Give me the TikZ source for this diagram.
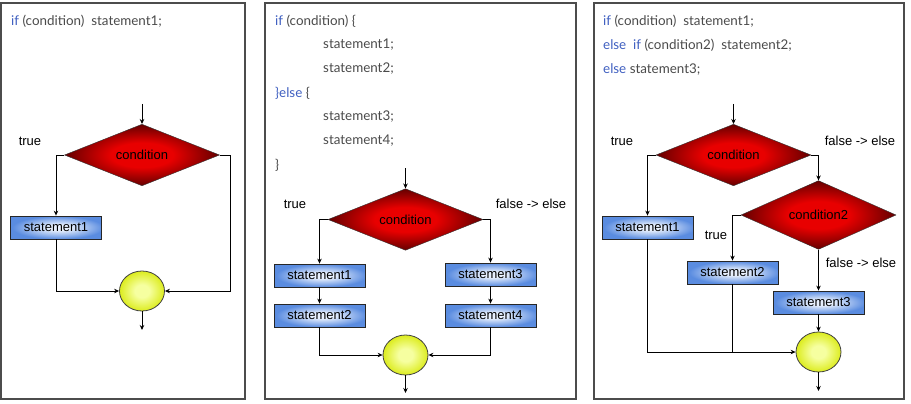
\documentclass[tikz,border=0pt]{standalone}
\usepackage{fontspec}
\setmainfont{Liberation Sans}
\newfontfamily\codefont{Lato}
\usetikzlibrary{shapes.geometric,arrows.meta,positioning}
\definecolor{kwblue}{HTML}{3F5FC0}
\definecolor{codegray}{HTML}{4A4A4A}
\definecolor{redin}{HTML}{E80000}
\definecolor{redout}{HTML}{640000}
\definecolor{bluein}{HTML}{E8F0FD}
\definecolor{blueout}{HTML}{5A8CE0}
\definecolor{yelin}{HTML}{F6FFA0}
\definecolor{yelout}{HTML}{DCEC1E}
\pgfdeclareradialshading{redshade}{\pgfpoint{0bp}{0bp}}{color(0bp)=(redin); color(10bp)=(redin); color(25bp)=(redout); color(50bp)=(redout)}
\pgfdeclareradialshading{blueshade}{\pgfpoint{2bp}{0bp}}{color(0bp)=(bluein); color(6bp)=(bluein); color(25bp)=(blueout); color(50bp)=(blueout)}
\pgfdeclareradialshading{yelshade}{\pgfpoint{0bp}{0bp}}{color(0bp)=(yelin); color(8bp)=(yelin); color(25bp)=(yelout); color(50bp)=(yelout)}
\newcommand{\kw}[1]{\textcolor{kwblue}{#1}}
\begin{document}
\begin{tikzpicture}[x=1pt,y=1pt,
		font=\fontsize{13}{15}\selectfont,
		arr/.style={-{Stealth[length=5pt,width=4.5pt]}, line width=0.8pt},
		link/.style={line width=0.8pt},
		panel/.style={draw=black!70, line width=1.1pt},
		code/.style={anchor=west, inner sep=0pt, font=\codefont\fontsize{13.4}{15}\selectfont, text=codegray},
		decision/.style={diamond, draw=black!80, inner sep=0pt, minimum width=155, minimum height=54, shading=redshade},
		stmt/.style={rectangle, draw=black!85, line width=0.8pt, minimum width=91, minimum height=23, inner sep=0pt, shading=blueshade},
		joint/.style={ellipse, draw=black!75, line width=0.8pt, minimum width=45, minimum height=40, inner sep=0pt, shading=yelshade},
		lbl/.style={inner sep=0pt}]
		\useasboundingbox (0,0) rectangle (911,-404);
		\draw [panel] (1,-3) rectangle (245,-399);
		\draw [panel] (265,-3) rectangle (576,-399);
		\draw [panel] (594,-3) rectangle (904,-399);
		% if
		\node (acode) [code] at (11,-21) {\kw{if} (condition)\ \ statement1;};
		\coordinate (ain) at (142,-104);
		\node (acond) [decision] at (142,-155) {condition};
		\node (atrue) [lbl] at (30,-141) {true};
		\node (as1) [stmt] at (56,-227.5) {statement1};
		\node (aend) [joint] at (142,-291) {};
		\coordinate (aout) at (142,-330);
		\draw [arr] (ain) -- (acond.north);
		\draw [arr] (acond.west) -| (as1.north);
		\draw [arr] (as1.south) |- (aend.west);
		\draw [arr] (acond.east) -- ++(11,0) |- (aend.east);
		\draw [arr] (aend.south) -- (aout);
		% if else
		\node (bcode1) [code] at (275,-21) {\kw{if} (condition)\ \{};
		\node (bcode2) [code] at (323,-45) {statement1;};
		\node (bcode3) [code] at (323,-69) {statement2;};
		\node (bcode4) [code] at (275,-93) {\kw{\}else} \{};
		\node (bcode5) [code] at (323,-117) {statement3;};
		\node (bcode6) [code] at (323,-141) {statement4;};
		\node (bcode7) [code] at (275,-165) {\}};
		\coordinate (bin) at (405.5,-168);
		\node (bcond) [decision] at (405.5,-219.5) {condition};
		\node (btrue) [lbl] at (295,-204) {true};
		\node (bfalse) [lbl] at (531,-204) {false -> else};
		\node (bs1) [stmt] at (319.5,-275.5) {statement1};
		\node (bs2) [stmt, below of = bs1, node distance=40] {statement2};
		\node (bs3) [stmt] at (490.5,-274.5) {statement3};
		\node (bs4) [stmt, below of = bs3, node distance=41] {statement4};
		\node (bend) [joint] at (405.5,-355) {};
		\coordinate (bout) at (405.5,-393);
		\draw [arr] (bin) -- (bcond.north);
		\draw [arr] (bcond.west) -| (bs1.north);
		\draw [arr] (bs1) -- (bs2);
		\draw [arr] (bs2.south) |- (bend.west);
		\draw [arr] (bcond.east) -| (bs3.north);
		\draw [arr] (bs3) -- (bs4);
		\draw [arr] (bs4.south) |- (bend.east);
		\draw [arr] (bend.south) -- (bout);
		% if else if
		\node (ccode1) [code] at (603,-21) {\kw{if} (condition)\ \ statement1;};
		\node (ccode2) [code] at (603,-45) {\kw{else}\ \ \kw{if} (condition2)\ \ statement2;};
		\node (ccode3) [code] at (603,-69) {\kw{else} statement3;};
		\coordinate (cin) at (733.5,-104);
		\node (ccond) [decision] at (733.5,-155) {condition};
		\node (ctrue) [lbl] at (622,-141) {true};
		\node (cfalse) [lbl] at (860,-141) {false -> else};
		\node (cs1) [stmt] at (647.5,-227.5) {statement1};
		\node (ccond2) [decision] at (818.5,-215) {condition2};
		\node (ctrue2) [lbl] at (716,-235) {true};
		\node (cfalse2) [lbl] at (861,-263) {false -> else};
		\node (cs2) [stmt] at (732.5,-272.5) {statement2};
		\node (cs3) [stmt] at (818.5,-302.5) {statement3};
		\node (cend) [joint] at (818.5,-352) {};
		\coordinate (cout) at (818.5,-391);
		\draw [arr] (cin) -- (ccond.north);
		\draw [arr] (ccond.west) -| (cs1.north);
		\draw [arr] (ccond.east) -| (ccond2.north);
		\draw [arr] (ccond2.west) -| (cs2.north);
		\draw [arr] (ccond2.south) -- (cs3.north);
		\draw [arr] (cs3.south) -- (cend.north);
		\draw [arr] (cs1.south) |- (cend.west);
		\draw [link] (cs2.south) -- (cs2.south |- cend.west);
		\draw [arr] (cend.south) -- (cout);
\end{tikzpicture}
\end{document}
